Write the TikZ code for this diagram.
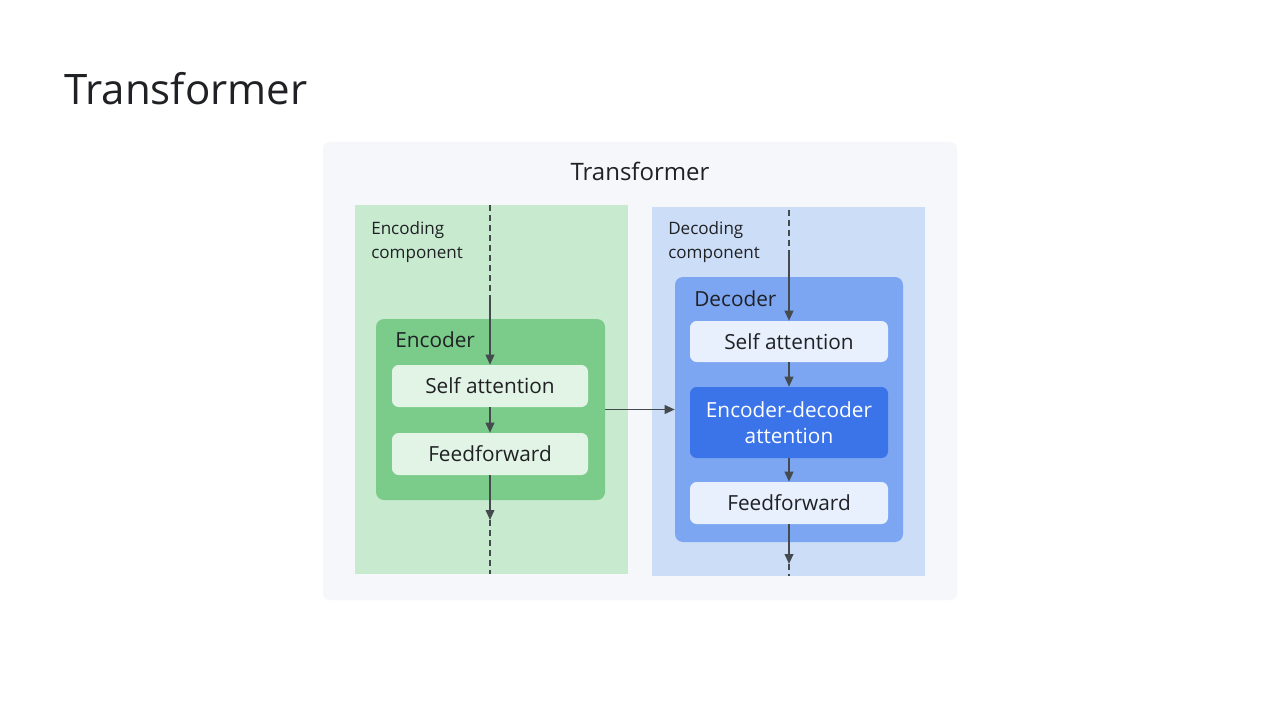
\documentclass[tikz,border=0pt]{standalone}
\usepackage{fontspec}
\setmainfont{Open Sans}
\usetikzlibrary{arrows.meta,fit}
\definecolor{txt}{HTML}{202124}
\definecolor{outerbg}{HTML}{F6F7FA}
\definecolor{gpanel}{HTML}{C8EBD0}
\definecolor{gbox}{HTML}{7BCB8B}
\definecolor{ginner}{HTML}{E2F4E5}
\definecolor{bpanel}{HTML}{CCDDF8}
\definecolor{bbox}{HTML}{7CA6F2}
\definecolor{binner}{HTML}{E8F0FE}
\definecolor{bdark}{HTML}{3A74E8}
\definecolor{arr}{HTML}{454A4F}
\tikzset{
  panel/.style={inner sep=0pt, draw=none},
  block/.style={inner sep=0pt, draw=none, rounded corners=6pt},
  inner/.style={inner sep=0pt, draw=none, rounded corners=5pt},
  boxtext/.style={inner sep=0pt, text=txt, font=\fontsize{15.6pt}{19pt}\selectfont, align=center},
  flow/.style={draw=arr, line width=1.3pt, -{Triangle[length=7.5pt,width=6.5pt]}},
  dashflow/.style={draw=arr, line width=1.3pt, dash pattern=on 4.5pt off 3pt},
  lbl/.style={anchor=base west, inner sep=0pt, text=txt},
  small/.style={font=\fontsize{12.8pt}{18pt}\selectfont},
}
\begin{document}
\begin{tikzpicture}[x=0.75pt,y=-0.75pt]
\useasboundingbox (0,0) rectangle (1280,720);
\fill[white] (0,0) rectangle (1280,720);
% main title
\node[lbl, font=\fontsize{31.5pt}{36pt}\selectfont] (title) at (64,105) {Transformer};
% outer box
\node[panel, fill=outerbg, rounded corners=5pt, fit={(323,142) (957,600)}] (outer) {};
\node[anchor=base, inner sep=0pt, text=txt, font=\fontsize{18pt}{21pt}\selectfont] (intitle) at (640,181) {Transformer};
% encoding panel
\node[panel, fill=gpanel, fit={(355,205) (628,574)}] (encpanel) {};
\node[lbl, small] (enclbl1) at (371,234) {Encoding};
\node[lbl, small] (enclbl2) at (371,258) {component};
\node[block, fill=gbox, fit={(376,319) (605,500)}] (enc) {};
\node[lbl, font=\fontsize{15.6pt}{18pt}\selectfont] (enclbl) at (395,347) {Encoder};
\node[inner, fill=ginner, fit={(392,365) (588,407)}] (esa) {};
\node[boxtext] (esat) at (esa.center) {Self attention};
\node[inner, fill=ginner, fit={(392,433) (588,475)}] (eff) {};
\node[boxtext] (efft) at (eff.center) {Feedforward};
% decoding panel
\node[panel, fill=bpanel, fit={(652,207) (925,576)}] (decpanel) {};
\node[lbl, small] (declbl1) at (668,234) {Decoding};
\node[lbl, small] (declbl2) at (668,258) {component};
\node[block, fill=bbox, fit={(675,277) (903,542)}] (dec) {};
\node[lbl, font=\fontsize{15.6pt}{18pt}\selectfont] (declbl) at (694,306) {Decoder};
\node[inner, fill=binner, fit={(690,321) (888,362)}] (dsa) {};
\node[boxtext] (dsat) at (dsa.center) {Self attention};
\node[inner, fill=bdark, fit={(690,387) (888,458)}] (eda) {};
\node[boxtext, text=white, font=\fontsize{15.6pt}{19.5pt}\selectfont] (edat) at (eda.center) {Encoder-decoder\\attention};
\node[inner, fill=binner, fit={(690,482) (888,524)}] (dff) {};
\node[boxtext] (dfft) at (dff.center) {Feedforward};
% coordinates
\coordinate (etop) at (490,205);
\coordinate (emid) at (490,296);
\coordinate (eout) at (490,520);
\coordinate (ebot) at (490,574);
\coordinate (dtop) at (789,210);
\coordinate (dmid) at (789,253);
\coordinate (dout) at (789,564);
\coordinate (dbot) at (789,576);
% encoder flow
\draw[dashflow] (etop) -- (emid);
\draw[flow] (emid) -- (esa.north);
\draw[flow] (esa.south) -- (eff.north);
\draw[flow] (eff.south) -- (eout);
\draw[dashflow] (eout) -- (ebot);
% cross
\draw[flow] (enc.east) -- (dec.west);
% decoder flow
\draw[dashflow] (dtop) -- (dmid);
\draw[flow] (dmid) -- (dsa.north);
\draw[flow] (dsa.south) -- (eda.north);
\draw[flow] (eda.south) -- (dff.north);
\draw[flow] (dff.south) -- (dout);
\draw[dashflow] (dout) -- (dbot);
\end{tikzpicture}
\end{document}
